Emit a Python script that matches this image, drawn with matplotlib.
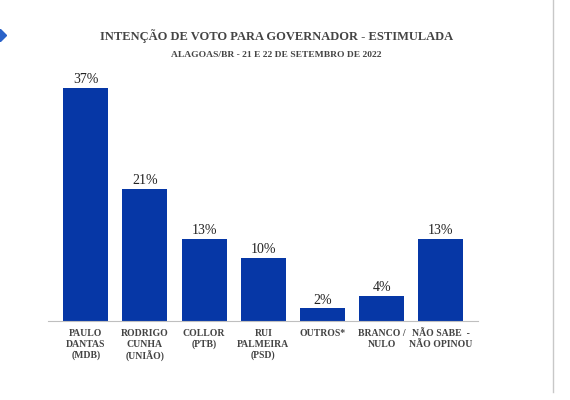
import matplotlib.pyplot as plt
from matplotlib.lines import Line2D

categories = ['PAULO\nDANTAS\n(MDB)', 'RODRIGO\nCUNHA\n(UNIÃO)', 'COLLOR\n(PTB)',
              'RUI\nPALMEIRA\n(PSD)', 'OUTROS*', 'BRANCO /\nNULO', 'NÃO SABE  -\nNÃO OPINOU']
values = [37, 21, 13, 10, 2, 4, 13]

plt.rcParams['font.family'] = ['Liberation Serif', 'DejaVu Serif']

fig = plt.figure(figsize=(5.7, 4.0), dpi=100)
ax = fig.add_axes([0.084, 0.1975, 0.755, 0.63])

x = range(len(values))
ax.bar(x, values, width=0.76, color='#0637A6')
for xi, v in zip(x, values):
    ax.text(xi, v + 0.3, f'{v}%', ha='center', va='bottom', fontsize=10, color='#222222')

ax.set_xlim(-0.64, 6.63)
ax.set_ylim(0, 40)
ax.set_yticks([])
ax.set_xticks(list(x))
ax.set_xticklabels(categories, fontsize=7, fontweight='bold', color='#444444', linespacing=1.2)
ax.tick_params(axis='x', length=0, pad=6)
for s in ['top', 'right', 'left']:
    ax.spines[s].set_visible(False)
ax.spines['bottom'].set_color('#bfbfbf')

fig.text(0.485, 0.91, 'INTENÇÃO DE VOTO PARA GOVERNADOR - ESTIMULADA', ha='center',
         va='center', fontsize=9, fontweight='bold', color='#444444')
fig.text(0.485, 0.862, 'ALAGOAS/BR - 21 E 22 DE SETEMBRO DE 2022', ha='center',
         va='center', fontsize=6.8, fontweight='bold', color='#444444')

# decorations at the edges
fig.add_artist(Line2D([0.0], [0.912], marker='D', markersize=6, color='#2a62c8',
                      transform=fig.transFigure))
fig.add_artist(Line2D([0.97, 0.97], [0.02, 1.0], color='#c8c8c8', lw=1,
                      transform=fig.transFigure))

fig.savefig('out.png', dpi=100)
